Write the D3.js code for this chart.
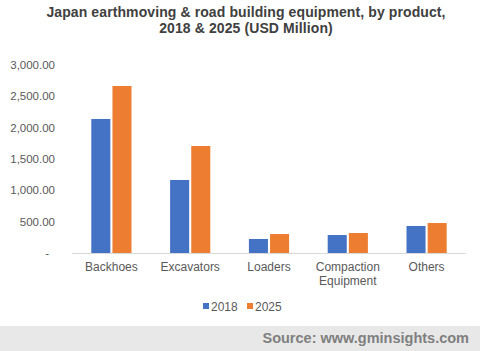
<!DOCTYPE html>
<html>
<head>
  <meta charset="utf-8">
  <title>Japan earthmoving & road building equipment, by product</title>
  <script src="https://d3js.org/d3.v7.min.js"></script>
  <style>
    body { margin: 0; background: #fff; }
    svg { display: block; font-family: "Liberation Sans", Arial, sans-serif; }
    .axis text { fill: #595959; font-size: 12px; }
    .yaxis text { fill: #595959; font-size: 11.5px; }
  </style>
</head>
<body>
<div id="chart"></div>
<script>
  const categories = [["Backhoes"], ["Excavators"], ["Loaders"], ["Compaction", "Equipment"], ["Others"]];
  const seriesNames = ["2018", "2025"];
  const values2018 = [2133, 1162, 223, 286, 430];
  const values2025 = [2658, 1703, 302, 318, 477];
  const yTicks = [0, 500, 1000, 1500, 2000, 2500, 3000];
  const colors = ["#4472c4", "#ed7d31"];

  const width = 480, height = 351;
  const margin = {top: 64.5, left: 72, right: 14, bottom: 98};

  const svg = d3.select("#chart").append("svg")
    .attr("width", width)
    .attr("height", height);

  // title
  const titleLines = ["Japan earthmoving & road building equipment, by product,", "2018 & 2025 (USD Million)"];
  titleLines.forEach((t, i) => {
    svg.append("text")
      .attr("x", 246).attr("y", 17 + i * 16)
      .attr("text-anchor", "middle")
      .attr("font-size", "14px").attr("font-weight", "bold").attr("fill", "#404040")
      .attr("letter-spacing", "0.1px")
      .text(t);
  });

  const x0 = d3.scaleBand()
    .domain(d3.range(categories.length))
    .range([margin.left, width - margin.right]);

  const x1 = d3.scaleBand()
    .domain(seriesNames)
    .range([x0.bandwidth() * 0.245, x0.bandwidth() * 0.755])
    .paddingInner(0.1);

  const y = d3.scaleLinear()
    .domain([0, 3000])
    .range([height - margin.bottom, margin.top]);

  // y axis labels only
  const yAxis = svg.append("g")
    .attr("class", "yaxis")
    .attr("transform", `translate(${margin.left - 14},0)`)
    .call(d3.axisLeft(y).tickValues(yTicks).tickSize(0)
      .tickFormat(d => d === 0 ? "-" : d3.format(",.2f")(d)));
  yAxis.select(".domain").remove();
  yAxis.selectAll("text").attr("dx", "0");
  yAxis.selectAll(".tick").filter(d => d === 0).select("text").attr("dx", "-6");

  // bars
  const groups = svg.append("g")
    .selectAll("g")
    .data(categories.map((c, i) => i))
    .join("g")
    .attr("transform", i => `translate(${x0(i)},0)`);

  groups.selectAll("rect")
    .data(i => [values2018[i], values2025[i]].map((v, k) => ({key: seriesNames[k], value: v, k})))
    .join("rect")
    .attr("x", d => x1(d.key))
    .attr("width", x1.bandwidth())
    .attr("y", d => y(d.value))
    .attr("height", d => y(0) - y(d.value))
    .attr("fill", d => colors[d.k]);

  // baseline
  svg.append("line")
    .attr("x1", margin.left).attr("x2", width - margin.right)
    .attr("y1", y(0) + 0.5).attr("y2", y(0) + 0.5)
    .attr("stroke", "#d9d9d9").attr("stroke-width", 1);

  // category labels
  const xLabels = svg.append("g").attr("class", "axis");
  categories.forEach((lines, i) => {
    const t = xLabels.append("text")
      .attr("text-anchor", "middle")
      .attr("x", x0(i) + x0.bandwidth() / 2)
      .attr("y", y(0) + 18);
    lines.forEach((l, j) => {
      t.append("tspan")
        .attr("x", x0(i) + x0.bandwidth() / 2)
        .attr("dy", j === 0 ? 0 : 14)
        .text(l);
    });
  });

  // legend
  const legend = svg.append("g").attr("class", "axis");
  const legendX = [203, 247];
  seriesNames.forEach((s, k) => {
    legend.append("rect")
      .attr("x", legendX[k]).attr("y", 303)
      .attr("width", 6).attr("height", 6)
      .attr("fill", colors[k]);
    legend.append("text")
      .attr("x", legendX[k] + 8).attr("y", 311)
      .text(s);
  });

  // source band
  svg.append("rect")
    .attr("x", 0).attr("y", 326)
    .attr("width", width).attr("height", height - 326)
    .attr("fill", "#e8e8e8");
  svg.append("text")
    .attr("x", 469).attr("y", 343)
    .attr("text-anchor", "end")
    .attr("font-size", "14.5px").attr("font-weight", "bold").attr("fill", "#7f7f7f")
    .text("Source: www.gminsights.com");
</script>
</body>
</html>
